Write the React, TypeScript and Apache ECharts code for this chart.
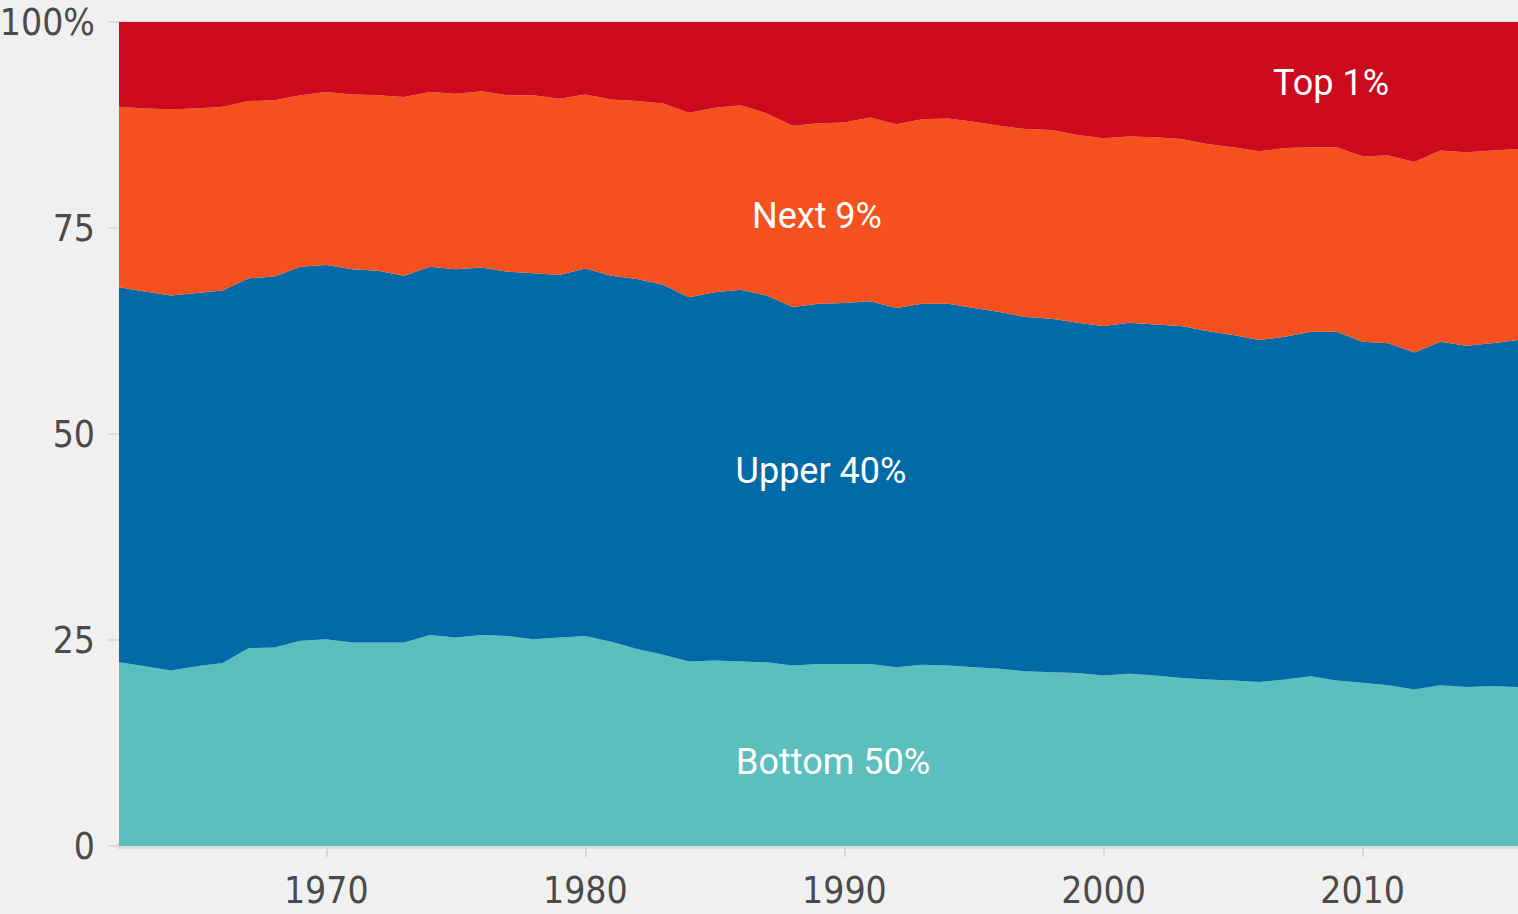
import React, { useEffect, useRef } from "react";
import * as echarts from "echarts";

const years: string[] = [];
for (let y = 1962; y <= 2016; y++) years.push(String(y));

const bottom50 = [22.3, 21.8, 21.3, 21.8, 22.2, 24.0, 24.1, 24.9, 25.1, 24.7, 24.7, 24.7, 25.6, 25.3, 25.6, 25.5, 25.1, 25.3, 25.5, 24.8, 23.9, 23.2, 22.4, 22.5, 22.4, 22.3, 21.9, 22.1, 22.1, 22.1, 21.7, 22.0, 21.9, 21.7, 21.5, 21.2, 21.1, 21.0, 20.7, 20.9, 20.7, 20.4, 20.2, 20.1, 19.9, 20.2, 20.6, 20.1, 19.8, 19.5, 19.0, 19.5, 19.3, 19.4, 19.3];
const upper40 = [45.5, 45.5, 45.5, 45.3, 45.2, 44.9, 45.0, 45.4, 45.4, 45.3, 45.1, 44.5, 44.7, 44.7, 44.6, 44.2, 44.4, 44.0, 44.6, 44.4, 44.9, 44.9, 44.2, 44.7, 45.1, 44.5, 43.5, 43.7, 43.8, 44.0, 43.6, 43.8, 43.9, 43.6, 43.3, 43.0, 42.9, 42.5, 42.4, 42.6, 42.6, 42.7, 42.3, 41.9, 41.5, 41.6, 41.8, 42.3, 41.4, 41.5, 40.9, 41.7, 41.4, 41.6, 42.1];
const next9 = [21.9, 22.2, 22.6, 22.4, 22.3, 21.5, 21.4, 20.8, 21.0, 21.2, 21.3, 21.7, 21.2, 21.3, 21.4, 21.4, 21.6, 21.4, 21.1, 21.4, 21.6, 22.0, 22.4, 22.4, 22.4, 22.1, 22.0, 21.9, 21.9, 22.3, 22.3, 22.4, 22.5, 22.6, 22.6, 22.8, 22.9, 22.8, 22.8, 22.6, 22.7, 22.7, 22.7, 22.8, 22.9, 22.9, 22.4, 22.4, 22.5, 22.8, 23.1, 23.2, 23.5, 23.4, 23.2];
const top1 = [10.3, 10.5, 10.6, 10.5, 10.3, 9.6, 9.5, 8.9, 8.5, 8.8, 8.9, 9.1, 8.5, 8.7, 8.4, 8.9, 8.9, 9.3, 8.8, 9.4, 9.6, 9.9, 11.0, 10.4, 10.1, 11.1, 12.6, 12.3, 12.2, 11.6, 12.4, 11.8, 11.7, 12.1, 12.6, 13.0, 13.1, 13.7, 14.1, 13.9, 14.0, 14.2, 14.8, 15.2, 15.7, 15.3, 15.2, 15.2, 16.3, 16.2, 17.0, 15.6, 15.8, 15.6, 15.4];

const xTickLabels = ["1970", "1980", "1990", "2000", "2010"];

const seriesNames = ["Bottom 50%", "Upper 40%", "Next 9%", "Top 1%"];
const seriesData = [bottom50, upper40, next9, top1];
const seriesColors = ["#5cbfbd", "#026ba7", "#f5511e", "#cd0a1d"];

const tickFont = "'Liberation Sans Narrow', 'DejaVu Sans Condensed', 'Roboto', sans-serif";
const labelFont = "Roboto, 'Open Sans', sans-serif";

export default function App() {
  const ref = useRef<HTMLDivElement>(null);
  useEffect(() => {
    if (!ref.current) return;
    const chart = echarts.init(ref.current, null, { renderer: "svg" });
    const isTick = (i: number) => xTickLabels.indexOf(years[i]) >= 0;
    const mkLabel = (text: string, x: number, y: number) => ({
      type: "text",
      x,
      y,
      z: 100,
      style: {
        text,
        fill: "#ffffff",
        fontSize: 36,
        fontFamily: labelFont,
        align: "center",
        verticalAlign: "middle",
      },
    });
    chart.setOption({
      animation: false,
      backgroundColor: "#f0f0f0",
      grid: { left: 119, right: 0, top: 22, bottom: 68, containLabel: false, outerBoundsMode: "none" },
      xAxis: {
        type: "category",
        data: years,
        boundaryGap: false,
        offset: 2,
        axisLine: { show: true, lineStyle: { color: "#dddddd", width: 6 } },
        axisTick: {
          show: true,
          interval: (i: number) => isTick(i),
          length: 11,
          lineStyle: { color: "#d6d6d6", width: 2 },
        },
        axisLabel: {
          interval: (i: number) => isTick(i),
          margin: 24,
          color: "#4a4a4a",
          fontSize: 37,
          fontFamily: tickFont,
        },
        splitLine: { show: false },
      },
      yAxis: {
        type: "value",
        min: 0,
        max: 100,
        interval: 25,
        axisLine: { show: false },
        axisTick: { show: true, length: 11, lineStyle: { color: "#dddddd", width: 2 } },
        axisLabel: {
          margin: 24,
          color: "#4a4a4a",
          fontSize: 37,
          fontFamily: tickFont,
          formatter: (v: number) => (v === 100 ? "100%" : String(v)),
        },
        splitLine: { show: true, lineStyle: { color: "#dddddd", width: 2 } },
      },
      series: seriesNames.map((name, i) => ({
        name,
        type: "line",
        stack: "total",
        symbol: "none",
        showSymbol: false,
        lineStyle: { width: 0 },
        areaStyle: { color: seriesColors[i], opacity: 1 },
        itemStyle: { color: seriesColors[i] },
        data: seriesData[i],
      })),
      graphic: [
        mkLabel("Top 1%", 1331, 83),
        mkLabel("Next 9%", 817, 216),
        mkLabel("Upper 40%", 821, 471),
        mkLabel("Bottom 50%", 833, 762),
      ],
    });
    return () => chart.dispose();
  }, []);
  return (
    <div
      ref={ref}
      style={{ position: "absolute", left: 0, top: 0, width: 1518, height: 914, background: "#f0f0f0" }}
    />
  );
}
